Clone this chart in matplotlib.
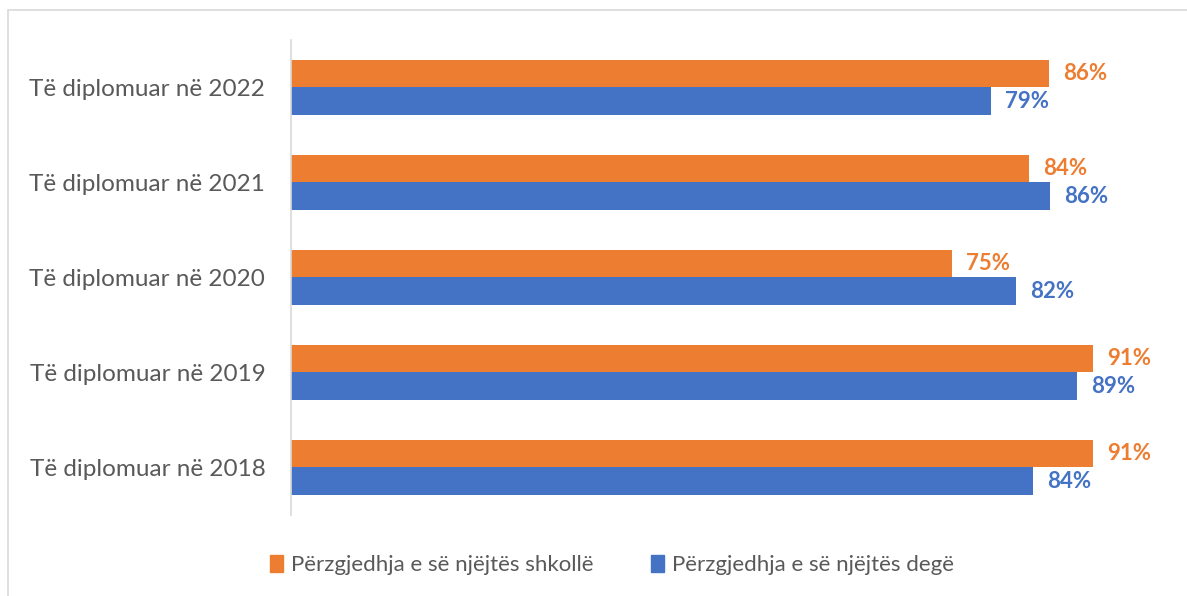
import matplotlib
matplotlib.use("Agg")
import matplotlib.pyplot as plt
from matplotlib.patches import Rectangle, Patch

categories = ["Të diplomuar në 2018", "Të diplomuar në 2019", "Të diplomuar në 2020",
              "Të diplomuar në 2021", "Të diplomuar në 2022"]
shkolle = [91.0, 91.0, 75.0, 83.8, 86.0]
dege = [84.2, 89.2, 82.3, 86.2, 79.4]
shkolle_labels = ["91%", "91%", "75%", "84%", "86%"]
dege_labels = ["84%", "89%", "82%", "86%", "79%"]
series_names = ["Përzgjedhja e së njëjtës shkollë", "Përzgjedhja e së njëjtës degë"]

ORANGE = "#ED7D31"
BLUE = "#4472C4"
GRAY = "#595959"

plt.rcParams['font.family'] = ['Lato', 'DejaVu Sans']

W, H = 1187, 596
fig = plt.figure(figsize=(W / 100, H / 100), dpi=100)
fig.patches.append(Rectangle((8 / W, -0.1), 1.2, 1 - 10 / H + 0.1, transform=fig.transFigure,
                             fill=False, edgecolor="#D9D9D9", linewidth=1.2))

ax = fig.add_axes([291 / W, 1 - 515 / H, 881 / W, 475 / H])
y = list(range(len(categories)))
h = 0.286
ax.barh([v + h / 2 for v in y], shkolle, height=h, color=ORANGE)
ax.barh([v - h / 2 for v in y], dege, height=h, color=BLUE)

for i in y:
    ax.annotate(shkolle_labels[i], (shkolle[i], i + h / 2), xytext=(14, 0), textcoords="offset pixels",
                va="center", ha="left", color=ORANGE, fontsize=16, fontweight="bold")
    ax.annotate(dege_labels[i], (dege[i], i - h / 2), xytext=(14, 0), textcoords="offset pixels",
                va="center", ha="left", color=BLUE, fontsize=16, fontweight="bold")

ax.set_xlim(0, 100)
ax.set_ylim(-0.5, 4.5)
ax.set_yticks(y)
ax.set_yticklabels(categories, fontsize=17.5, color=GRAY)
ax.tick_params(axis="y", length=0, pad=18.5)
ax.set_xticks([])
for s in ["top", "right", "bottom"]:
    ax.spines[s].set_visible(False)
ax.spines["left"].set_color("#D9D9D9")
ax.spines["left"].set_linewidth(1.2)

handles = [Patch(color=ORANGE), Patch(color=BLUE)]
fig.legend(handles, series_names, loc="center", bbox_to_anchor=(612 / W, 1 - 565 / H), ncol=2,
           frameon=False, fontsize=16, labelcolor=GRAY, handlelength=0.6, handleheight=0.8,
           handletextpad=0.35, columnspacing=2.6)

fig.savefig("out.png", dpi=100)
